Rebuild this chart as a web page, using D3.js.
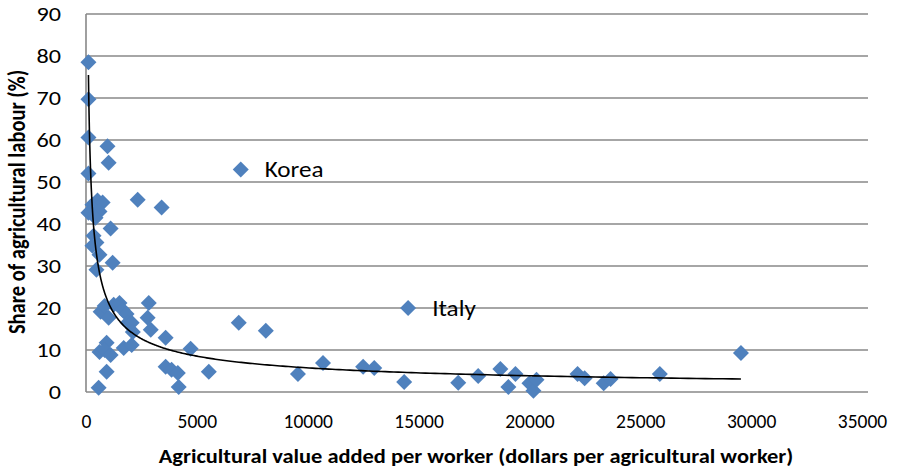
<!DOCTYPE html>
<html>
<head>
<meta charset="utf-8">
<script src="https://cdn.jsdelivr.net/npm/d3@7"></script>
<style>
  html, body { margin: 0; padding: 0; background: #fff; }
  svg { display: block; }
  text { font-family: Carlito, "Liberation Sans Narrow", "Liberation Sans", sans-serif; fill: #000; }
</style>
</head>
<body>
<div id="chart"></div>
<script>
// Share of agricultural labour vs agricultural value added per worker.
// Values.

const valueAdded = [
  110, 110, 110, 110, 970, 1020, 6980, 2330, 3410,
  290, 520, 750, 110, 610, 430, 1110, 340, 470, 290, 610, 1200, 470,
  660, 840, 1020, 1250, 1510, 1650, 1830, 1880, 2060, 2110,
  2830, 2780, 2920, 3590, 4720, 6890, 8110,
  930, 610, 840, 1110, 1700, 2060, 930, 570,
  3590, 3860, 4140, 4180, 5540, 9560, 10690, 12500, 13000, 14350, 14530,
  16790, 17690, 18690, 19370, 19050, 20000, 20180, 20320,
  22170, 22490, 23350, 23660, 25880, 29540
];
const labourShare = [
  78.5, 69.7, 60.6, 52.0, 58.5, 54.6, 53.0, 45.8, 43.9,
  44.6, 45.6, 45.1, 42.7, 43.0, 41.5, 38.9, 37.2, 35.6, 34.8, 32.7, 30.8, 29.1,
  19.1, 20.5, 17.7, 20.8, 21.2, 19.6, 18.6, 16.5, 16.5, 14.3,
  21.2, 17.7, 14.8, 12.9, 10.3, 16.5, 14.6,
  11.7, 9.5, 10.0, 8.8, 10.5, 11.2, 4.8, 1.0,
  6.0, 5.3, 4.5, 1.2, 4.8, 4.3, 6.9, 6.0, 5.7, 2.4, 20.0,
  2.2, 3.8, 5.5, 4.3, 1.2, 2.1, 0.3, 2.9,
  4.3, 3.3, 2.1, 3.1, 4.3, 9.3
];
const pointLabels = [
  { name: "Korea", x: 6980, y: 53.0 },
  { name: "Italy", x: 14530, y: 20.0 }
];

const xTicks = [0, 5000, 10000, 15000, 20000, 25000, 30000, 35000];
const yTicks = [0, 10, 20, 30, 40, 50, 60, 70, 80, 90];

// power trendline y = a * x^b (as drawn in the picture)
const TREND_COEF = 1105;
const TREND_EXP = -0.571;

const X_TITLE = "Agricultural value added per worker (dollars per agricultural worker)";
const Y_TITLE = "Share of agricultural labour (%)";

const W = 902, H = 469;
const plotL = 86, plotR = 862, plotT = 14, plotB = 392;
const BLUE = "#4F81BD";
const GRID = "#888888";
const STRETCH = 1.15; // text in the picture is a bit wider than tall

const svg = d3.select("#chart").append("svg")
  .attr("width", W)
  .attr("height", H);

const x = d3.scaleLinear().domain([0, 35000]).range([plotL, plotR]);
const y = d3.scaleLinear().domain([0, 90]).range([plotB, plotT]);

// gridlines
svg.append("g")
  .selectAll("line")
  .data(yTicks)
  .enter().append("line")
  .attr("x1", plotL)
  .attr("x2", plotR + 6)
  .attr("y1", d => y(d))
  .attr("y2", d => y(d))
  .attr("stroke", GRID)
  .attr("stroke-width", 1.6);

// left axis line
svg.append("line")
  .attr("x1", plotL).attr("x2", plotL)
  .attr("y1", y(90)).attr("y2", y(0))
  .attr("stroke", GRID)
  .attr("stroke-width", 1.6);

// y tick labels (right edge ~25px left of the axis)
const yAxis = d3.axisLeft(y).tickValues(yTicks).tickSize(0).tickPadding(0);
const gy = svg.append("g").attr("transform", `translate(${plotL - 25},0)`).call(yAxis);
gy.attr("font-family", null);
gy.select(".domain").remove();
gy.selectAll(".tick text")
  .attr("font-size", 21)
  .attr("x", 0)
  .attr("transform", `scale(${STRETCH},1)`);

// x tick labels
const xAxis = d3.axisBottom(x).tickValues(xTicks).tickSize(0).tickPadding(22).tickFormat(d3.format("d"));
const gx = svg.append("g").attr("transform", `translate(0,${plotB})`).call(xAxis);
gx.attr("font-family", null);
gx.select(".domain").remove();
gx.selectAll("text").attr("font-size", 19.5);

// axis titles
svg.append("text")
  .attr("transform", `translate(476,463) scale(${STRETCH},1)`)
  .attr("text-anchor", "middle")
  .attr("font-size", 19.5)
  .attr("font-weight", "bold")
  .text(X_TITLE);

svg.append("text")
  .attr("transform", `translate(25,202) scale(${STRETCH},1) rotate(-90)`)
  .attr("text-anchor", "middle")
  .attr("font-size", 20.5)
  .attr("font-weight", "bold")
  .text(Y_TITLE);

// points
const pts = valueAdded.map((v, i) => ({ x: v, y: labourShare[i] }));
const diamond = d3.symbol().type(d3.symbolSquare).size(128);

svg.append("g")
  .selectAll("path")
  .data(pts)
  .enter().append("path")
  .attr("d", diamond)
  .attr("transform", d => `translate(${x(d.x)},${y(d.y)}) rotate(45)`)
  .attr("fill", BLUE);

// trendline over data extent
const [xMin, xMax] = d3.extent(valueAdded);
const trendX = d3.range(0, 401).map(i => xMin * Math.pow(xMax / xMin, i / 400));
const line = d3.line()
  .x(d => x(d))
  .y(d => y(TREND_COEF * Math.pow(d, TREND_EXP)));

svg.append("path")
  .datum(trendX)
  .attr("d", line)
  .attr("fill", "none")
  .attr("stroke", "#000")
  .attr("stroke-width", 1.6);

// country labels
svg.append("g")
  .selectAll("text")
  .data(pointLabels)
  .enter().append("text")
  .attr("transform", d => `translate(${x(d.x) + 24},${y(d.y) + 8}) scale(1.17,1)`)
  .attr("font-size", 21.5)
  .text(d => d.name);
</script>
</body>
</html>
